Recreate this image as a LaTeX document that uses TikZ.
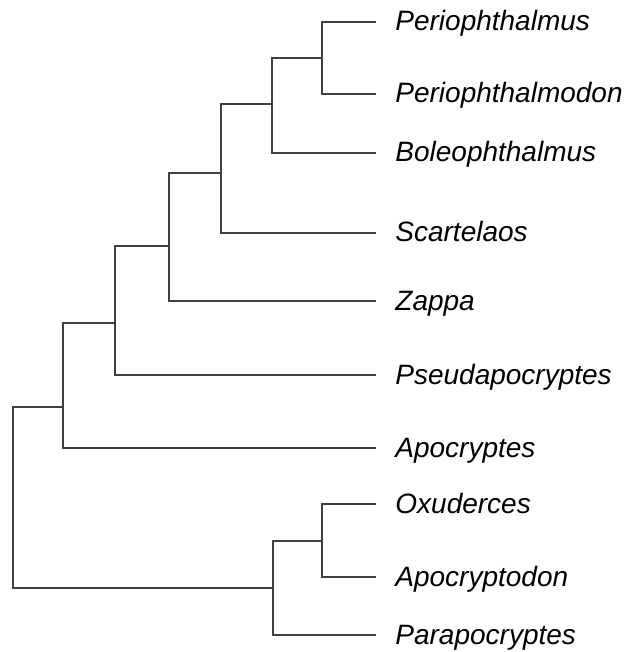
\documentclass[tikz,border=0pt]{standalone}
\usepackage{fontspec}
\setmainfont{Liberation Sans}
\usetikzlibrary{positioning}

\begin{document}
\begin{tikzpicture}[x=0.5pt,y=-0.5pt,
    branch/.style={line width=1.1pt,draw=black!75},
    taxon/.style={anchor=base west,inner sep=0pt,xshift=9.5pt,yshift=-4.5pt,
      font=\fontsize{14}{16}\selectfont\itshape}]
  \useasboundingbox (0,0) rectangle (627,652);

  % internal nodes
  \coordinate (root) at (13,497);
  \coordinate (nA) at (322,58);
  \coordinate (nB) at (272,104);
  \coordinate (nC) at (221,173);
  \coordinate (nD) at (169,246);
  \coordinate (nE) at (115,323);
  \coordinate (nF) at (63,407);
  \coordinate (nG) at (322,541);
  \coordinate (nH) at (273,588);

  % leaf tips
  \coordinate (t1) at (376,22);
  \coordinate (t2) at (376,94);
  \coordinate (t3) at (376,153);
  \coordinate (t4) at (376,233);
  \coordinate (t5) at (376,301);
  \coordinate (t6) at (376,375);
  \coordinate (t7) at (376,448);
  \coordinate (t8) at (376,504);
  \coordinate (t9) at (376,577);
  \coordinate (t10) at (376,635);

  \node[taxon] (periophthalmus) at (t1) {Periophthalmus};
  \node[taxon] (periophthalmodon) at (t2) {Periophthalmodon};
  \node[taxon] (boleophthalmus) at (t3) {Boleophthalmus};
  \node[taxon] (scartelaos) at (t4) {Scartelaos};
  \node[taxon] (zappa) at (t5) {Zappa};
  \node[taxon] (pseudapocryptes) at (t6) {Pseudapocryptes};
  \node[taxon] (apocryptes) at (t7) {Apocryptes};
  \node[taxon] (oxuderces) at (t8) {Oxuderces};
  \node[taxon] (apocryptodon) at (t9) {Apocryptodon};
  \node[taxon] (parapocryptes) at (t10) {Parapocryptes};

  % branches
  \draw[branch] (nA) |- (t1);
  \draw[branch] (nA) |- (t2);
  \draw[branch] (nB) |- (nA);
  \draw[branch] (nB) |- (t3);
  \draw[branch] (nC) |- (nB);
  \draw[branch] (nC) |- (t4);
  \draw[branch] (nD) |- (nC);
  \draw[branch] (nD) |- (t5);
  \draw[branch] (nE) |- (nD);
  \draw[branch] (nE) |- (t6);
  \draw[branch] (nF) |- (nE);
  \draw[branch] (nF) |- (t7);
  \draw[branch] (nG) |- (t8);
  \draw[branch] (nG) |- (t9);
  \draw[branch] (nH) |- (nG);
  \draw[branch] (nH) |- (t10);
  \draw[branch] (root) |- (nF);
  \draw[branch] (root) |- (nH);
\end{tikzpicture}
\end{document}
